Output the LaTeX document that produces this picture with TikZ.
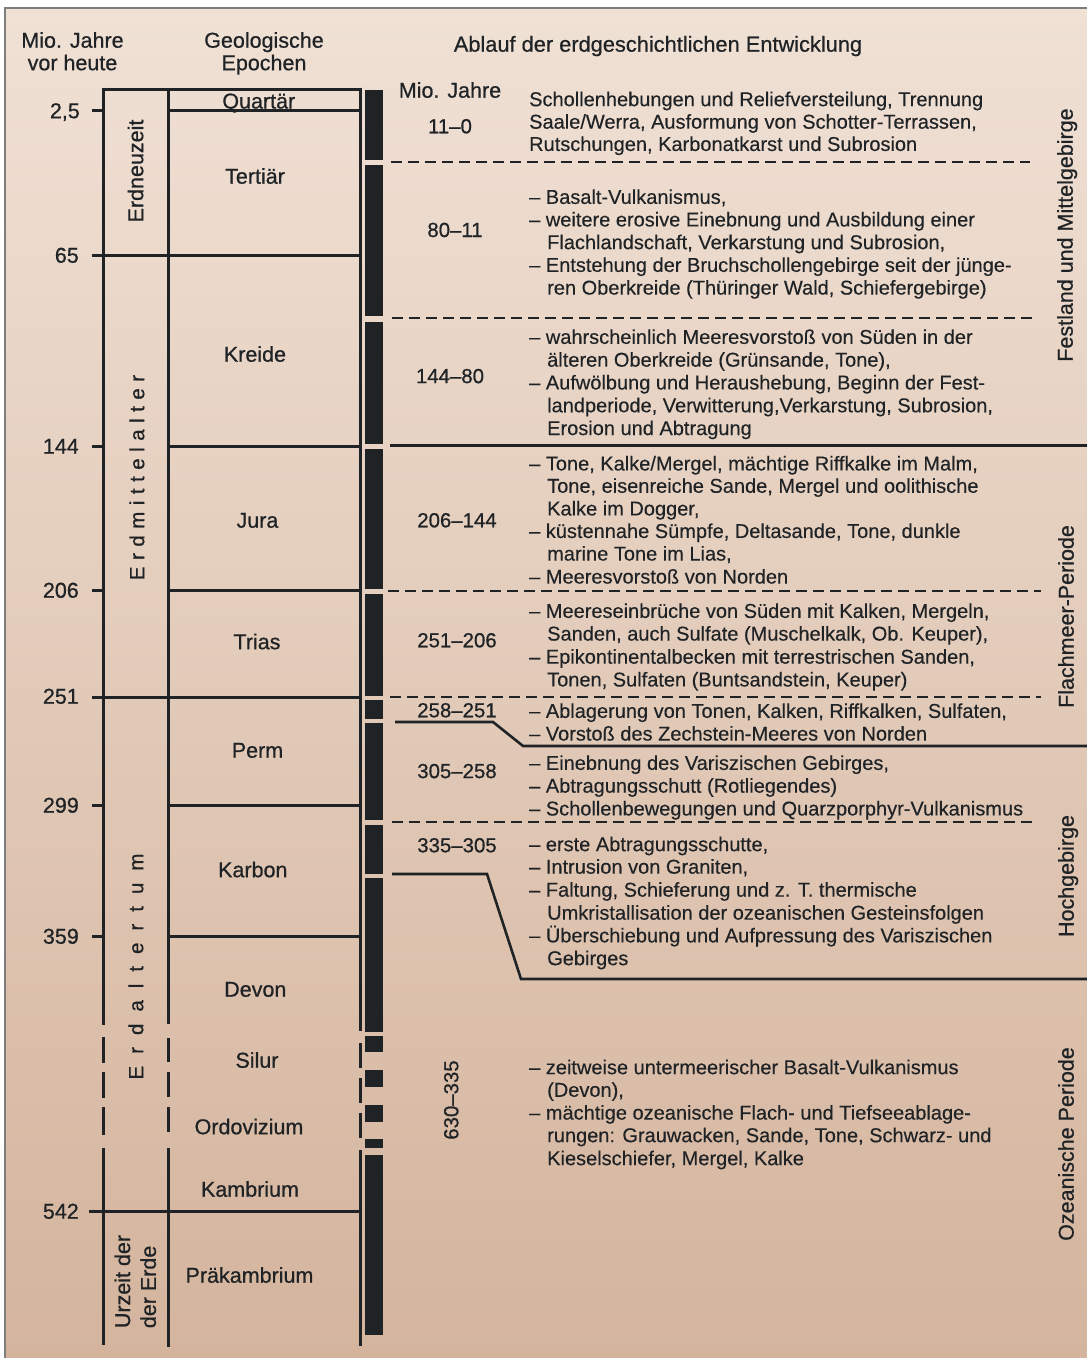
\documentclass[tikz,border=0pt]{standalone}
\usepackage{fontspec}
\setmainfont{Liberation Sans}
\newfontfamily\medfont{Liberation Sans}[FakeBold=0.7]
\newfontfamily\bodyfont{Liberation Sans}[FakeBold=0.3]
\definecolor{ink}{HTML}{202326}
\definecolor{bgtop}{RGB}{240,225,213}
\definecolor{bgbot}{RGB}{212,180,157}
\definecolor{framegray}{RGB}{125,125,125}
\newcommand\myks{\kern6.5pt}
\newcommand\mykt{\kern12pt}
\newcommand\bline[4]{\node[body] (#1) at (#2,#3) {#4};}
\begin{document}
\begin{tikzpicture}[x=1pt,y=-1pt,
  lbl/.style={text=ink, inner sep=0pt, font=\medfont\fontsize{21.5}{24}\selectfont, text height=15.4pt, text depth=0pt},
  rng/.style={text=ink, inner sep=0pt, font=\medfont\fontsize{20.4}{24}\selectfont, text height=14.6pt, text depth=0pt},
  body/.style={text=ink, inner sep=0pt, anchor=west, font=\bodyfont\fontsize{20}{22.8}\selectfont, text height=14.3pt, text depth=0pt},
  grid/.style={draw=ink, line width=3pt},
  dashline/.style={draw=ink, line width=2pt, dash pattern=on 11pt off 6pt},
  stepline/.style={draw=ink, line width=2.6pt},
  barseg/.style={fill=ink}
]
\useasboundingbox (0,0) rectangle (1087,1358);
\shade[top color=bgtop,bottom color=bgbot] (5,8) rectangle (1087,1358);
\draw[framegray,line width=1.5pt] (5,1358) -- (5,8) -- (1087,8);

% headers
\node[lbl] (h1a) at (72.5,40) {Mio. Jahre};
\node[lbl] (h1b) at (72.5,62.5) {vor heute};
\node[lbl] (h2a) at (264,40) {Geologische};
\node[lbl] (h2b) at (264,62.5) {Epochen};
\node[lbl,font=\medfont\fontsize{21.8}{24}\selectfont] (h3) at (658,44) {Ablauf der erdgeschichtlichen Entwicklung};

% frame of the epoch table
\draw[grid] (103,89) -- (360,89);
\draw[grid] (92,110.5) -- (103,110.5);
\draw[grid] (168,110.5) -- (360,110.5);
\draw[grid] (92,255) -- (360,255);
\draw[grid] (92,446) -- (103,446);
\draw[grid] (168,446) -- (360,446);
\draw[grid] (92,590) -- (103,590);
\draw[grid] (168,590) -- (360,590);
\draw[grid] (92,697) -- (360,697);
\draw[grid] (92,805) -- (103,805);
\draw[grid] (168,805) -- (360,805);
\draw[grid] (92,936) -- (103,936);
\draw[grid] (168,936) -- (360,936);
\draw[grid] (89,1211) -- (360,1211);
% vertical lines
\draw[grid] (103,87.5) -- (103,1025);
\draw[grid] (103,1037) -- (103,1063);
\draw[grid] (103,1072) -- (103,1098);
\draw[grid] (103,1107) -- (103,1135);
\draw[grid] (103,1148) -- (103,1345);
\draw[grid] (168,89) -- (168,1024);
\draw[grid] (168,1038) -- (168,1062);
\draw[grid] (168,1072) -- (168,1097);
\draw[grid] (168,1107) -- (168,1132);
\draw[grid] (168,1148) -- (168,1347);
\draw[grid] (360,87.5) -- (360,1031);
\draw[grid] (360,1043) -- (360,1068);
\draw[grid] (360,1078) -- (360,1103);
\draw[grid] (360,1113) -- (360,1138);
\draw[grid] (360,1150) -- (360,1346);

% numbers
\node[lbl,anchor=east] (n1) at (80,110.5) {2,5};
\node[lbl,anchor=east] (n2) at (79,255) {65};
\node[lbl,anchor=east] (n3) at (79,446) {144};
\node[lbl,anchor=east] (n4) at (79,590) {206};
\node[lbl,anchor=east] (n5) at (79,696) {251};
\node[lbl,anchor=east] (n6) at (79,805) {299};
\node[lbl,anchor=east] (n7) at (79,936) {359};
\node[lbl,anchor=east] (n8) at (79,1211) {542};

% epochs
\node[lbl] (e1) at (258.8,100.8) {Quartär};
\node[lbl] (e2) at (255,176) {Tertiär};
\node[lbl] (e3) at (255,354) {Kreide};
\node[lbl] (e4) at (257.5,520) {Jura};
\node[lbl] (e5) at (257,641.5) {Trias};
\node[lbl] (e6) at (257.5,750) {Perm};
\node[lbl] (e7) at (252.8,869.5) {Karbon};
\node[lbl] (e8) at (255.3,989) {Devon};
\node[lbl] (e9) at (257,1060) {Silur};
\node[lbl] (e10) at (249,1126.5) {Ordovizium};
\node[lbl] (e11) at (250,1189) {Kambrium};
\node[lbl] (e12) at (249.5,1275) {Präkambrium};

% eras
\node[lbl,rotate=90] (a1) at (135.5,171) {Erdneuzeit};
\node[lbl,rotate=90,font=\medfont\fontsize{20.5}{24}\selectfont] (a2) at (136.5,477.5) {E\myks r\myks d\myks m\myks i\myks t\myks t\myks e\myks l\myks a\myks l\myks t\myks e\myks r};
\node[lbl,rotate=90,font=\medfont\fontsize{20.5}{24}\selectfont] (a3) at (135.5,966.5) {E\mykt r\mykt d\mykt a\mykt l\mykt t\mykt e\mykt r\mykt t\mykt u\mykt m};
\node[text=ink,inner sep=0pt,rotate=90,align=left,font=\medfont\fontsize{21.5}{25.8}\selectfont] (a4) at (135.3,1281.5) {Urzeit der\\der Erde};

% black bar
\fill[barseg] (365,90) rectangle (383,160);
\fill[barseg] (365,165) rectangle (383,316);
\fill[barseg] (365,322) rectangle (383,444);
\fill[barseg] (365,449) rectangle (383,589);
\fill[barseg] (365,594) rectangle (383,696);
\fill[barseg] (365,700) rectangle (383,719);
\fill[barseg] (365,723) rectangle (383,820);
\fill[barseg] (365,825) rectangle (383,874);
\fill[barseg] (365,878) rectangle (383,1032);
\fill[barseg] (365,1036) rectangle (383,1052);
\fill[barseg] (365,1070) rectangle (383,1087);
\fill[barseg] (365,1105) rectangle (383,1122);
\fill[barseg] (365,1139) rectangle (383,1148);
\fill[barseg] (365,1155) rectangle (383,1335);

% dividers on the right
\draw[dashline] (391,162) -- (1030,162);
\draw[dashline] (392,318) -- (1032,318);
\draw[grid] (390,445) -- (1087,445);
\draw[dashline] (388,591) -- (1041,591);
\draw[dashline] (390,697) -- (1041,697);
\draw[stepline] (395,722) -- (493,722) -- (523,746) -- (1087,746);
\draw[dashline] (392,822) -- (1038,822);
\draw[stepline] (392,874) -- (487,874) -- (521,979) -- (1087,979);

% range labels
\node[lbl] (r0) at (450,90) {Mio. Jahre};
\node[rng] (r1) at (450,126) {11–0};
\node[rng] (r2) at (455,229.7) {80–11};
\node[rng] (r3) at (450,375.8) {144–80};
\node[rng] (r4) at (457,520) {206–144};
\node[rng] (r5) at (457,640) {251–206};
\node[rng] (r6) at (457,710) {258–251};
\node[rng] (r7) at (457,770.8) {305–258};
\node[rng] (r8) at (457,845) {335–305};
\node[rng,rotate=90] (r9) at (451,1100) {630–335};

% right labels
\node[lbl,rotate=90] (p1) at (1065,235) {Festland und Mittelgebirge};
\node[lbl,rotate=90] (p2) at (1066,616.5) {Flachmeer-Periode};
\node[lbl,rotate=90] (p3) at (1066,876) {Hochgebirge};
\node[lbl,rotate=90] (p4) at (1066,1144) {Ozeanische Periode};

% body text
\bline{t1a}{529}{99}{Schollenhebungen und Reliefversteilung, Trennung}
\bline{t1b}{529}{121.5}{Saale/Werra, Ausformung von Schotter-Terrassen,}
\bline{t1c}{529}{143.8}{Rutschungen, Karbonatkarst und Subrosion}

\bline{t2a}{529}{196.7}{– Basalt-Vulkanismus,}
\bline{t2b}{529}{219.3}{– weitere erosive Einebnung und Ausbildung einer}
\bline{t2c}{547}{242}{Flachlandschaft, Verkarstung und Subrosion,}
\bline{t2d}{529}{264.7}{– Entstehung der Bruchschollengebirge seit der jünge-}
\bline{t2e}{547}{287.4}{ren Oberkreide (Thüringer Wald, Schiefergebirge)}

\bline{t3a}{529}{336.7}{– wahrscheinlich Meeresvorstoß von Süden in der}
\bline{t3b}{547}{359.5}{älteren Oberkreide (Grünsande, Tone),}
\bline{t3c}{529}{382.3}{– Aufwölbung und Heraushebung, Beginn der Fest-}
\bline{t3d}{547}{405.1}{landperiode, Verwitterung,Verkarstung, Subrosion,}
\bline{t3e}{547}{427.9}{Erosion und Abtragung}

\bline{t4a}{529}{463.3}{– Tone, Kalke/Mergel, mächtige Riffkalke im Malm,}
\bline{t4b}{547}{485.6}{Tone, eisenreiche Sande, Mergel und oolithische}
\bline{t4c}{547}{508.3}{Kalke im Dogger,}
\bline{t4d}{529}{530.8}{– küstennahe Sümpfe, Deltasande, Tone, dunkle}
\bline{t4e}{547}{553.4}{marine Tone im Lias,}
\bline{t4f}{529}{576.4}{– Meeresvorstoß von Norden}

\bline{t5a}{529}{610.7}{– Meereseinbrüche von Süden mit Kalken, Mergeln,}
\bline{t5b}{547}{633.4}{Sanden, auch Sulfate (Muschelkalk, Ob. Keuper),}
\bline{t5c}{529}{656.5}{– Epikontinentalbecken mit terrestrischen Sanden,}
\bline{t5d}{547}{679.3}{Tonen, Sulfaten (Buntsandstein, Keuper)}

\bline{t6a}{529}{710.7}{– Ablagerung von Tonen, Kalken, Riffkalken, Sulfaten,}
\bline{t6b}{529}{733.4}{– Vorstoß des Zechstein-Meeres von Norden}

\bline{t7a}{529}{762.7}{– Einebnung des Variszischen Gebirges,}
\bline{t7b}{529}{785.5}{– Abtragungsschutt (Rotliegendes)}
\bline{t7c}{529}{808.3}{– Schollenbewegungen und Quarzporphyr-Vulkanismus}

\bline{t8a}{529}{844}{– erste Abtragungsschutte,}
\bline{t8b}{529}{866.5}{– Intrusion von Graniten,}
\bline{t8c}{529}{889.5}{– Faltung, Schieferung und z. T. thermische}
\bline{t8d}{547}{912.5}{Umkristallisation der ozeanischen Gesteinsfolgen}
\bline{t8e}{529}{935.2}{– Überschiebung und Aufpressung des Variszischen}
\bline{t8f}{547}{958}{Gebirges}

\bline{t9a}{529}{1067}{– zeitweise untermeerischer Basalt-Vulkanismus}
\bline{t9b}{547}{1089.6}{(Devon),}
\bline{t9c}{529}{1112.4}{– mächtige ozeanische Flach- und Tiefseeablage-}
\bline{t9d}{547}{1135}{rungen: Grauwacken, Sande, Tone, Schwarz- und}
\bline{t9e}{547}{1158}{Kieselschiefer, Mergel, Kalke}
\end{tikzpicture}
\end{document}
